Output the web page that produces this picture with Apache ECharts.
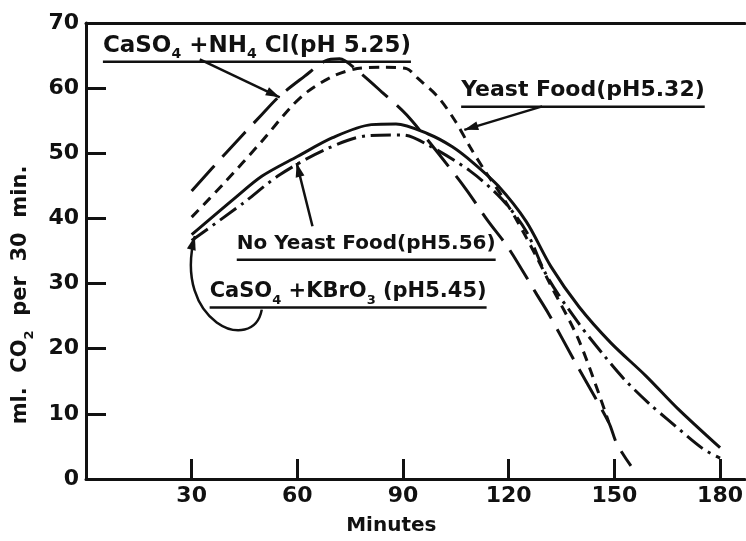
<!DOCTYPE html>
<html>
<head>
<meta charset="utf-8">
<title>CO2 per 30 min</title>
<script src="https://cdn.jsdelivr.net/npm/echarts@6/dist/echarts.min.js"></script>
<style>
  html, body { margin: 0; padding: 0; background: #fff; }
  #chart { width: 746px; height: 541px; }
</style>
</head>
<body>
<div id="chart"></div>
<script>
// tick labels
var minuteTicks = [30, 60, 90, 120, 150, 180];

// CaSO4 + NH4Cl (pH 5.25), long dashes
var nh4Minutes = [30, 40, 50, 55, 62, 68, 72, 77, 84, 91, 100, 108, 114, 120, 128, 131.4, 139, 148.4, 150.7, 154.7];
var nh4Co2     = [44.2, 50.2, 56, 58.8, 61.8, 64.2, 64.5, 62.7, 59.4, 55.9, 50, 44.4, 39.7, 35.4, 28.3, 25.3, 17.8, 8.7, 5.4, 2];

// Yeast Food (pH 5.32), short dashes
var yeastMinutes = [30, 39, 50, 58, 63, 70, 77, 85, 91, 94, 100, 105, 109, 113, 118, 122, 128, 131.4, 140, 148.4];
var yeastCo2     = [40.2, 45.3, 51.9, 57, 59.5, 61.8, 63, 63.2, 63, 61.6, 58.6, 54.8, 51, 47.5, 43.5, 40, 34, 30.3, 21.2, 8.7];

// No Yeast Food (pH 5.56), solid
var noYeastMinutes = [30, 42, 50, 60, 70, 81, 88, 97, 104, 110, 117, 125, 132, 140, 149, 159, 168, 180];
var noYeastCo2     = [37.5, 43, 46.5, 49.5, 52.4, 54.4, 54.5, 53, 51, 48.5, 45, 39.5, 32.6, 26.4, 20.9, 15.8, 10.8, 4.8];

// CaSO4 + KBrO3 (pH 5.45), dash-dot
var kbrMinutes = [30, 44.5, 55, 68, 80, 90, 97, 109, 118, 125, 131, 140, 147, 153, 160, 165, 175, 180];
var kbrCo2     = [36.6, 42.3, 46.7, 50.6, 52.7, 52.8, 51.3, 47.3, 43, 38, 31, 23.8, 19, 15.2, 11.5, 9.2, 4.7, 3.2];

function pairs(xs, ys) {
  return xs.map(function (x, i) { return [x, ys[i]]; });
}

var FONT = '"DejaVu Sans", sans-serif';
var INK = '#111';
var chart = echarts.init(document.getElementById('chart'));

var axisLine = { lineStyle: { color: INK, width: 3 } };
var tickStyle = { inside: true, length: 20, lineStyle: { color: INK, width: 3 } };

function curve(data, dash) {
  return {
    type: 'line',
    data: data,
    smooth: 0.3,
    symbol: 'none',
    silent: true,
    lineStyle: { color: INK, width: 3, type: dash }
  };
}

chart.setOption({
  backgroundColor: '#fff',
  animation: false,
  grid: { left: 86, right: 0, top: 23, bottom: 53 },
  xAxis: [{
    type: 'value',
    min: 0,
    max: 187,
    axisLine: axisLine,
    axisTick: Object.assign({ customValues: minuteTicks }, tickStyle),
    axisLabel: {
      customValues: minuteTicks,
      color: INK, fontFamily: FONT, fontWeight: 'bold', fontSize: 22, margin: 6
    },
    splitLine: { show: false },
    name: 'Minutes',
    nameLocation: 'middle',
    nameGap: 37,
    nameTextStyle: { color: INK, fontFamily: FONT, fontWeight: 'bold', fontSize: 20, padding: [0, 48, 0, 0] }
  }, {
    type: 'value',
    position: 'top',
    min: 0,
    max: 187,
    axisLine: axisLine,
    axisTick: { show: false },
    axisLabel: { show: false },
    splitLine: { show: false }
  }],
  yAxis: {
    type: 'value',
    min: 0,
    max: 70,
    interval: 10,
    axisLine: axisLine,
    axisTick: tickStyle,
    axisLabel: { color: INK, fontFamily: FONT, fontWeight: 'bold', fontSize: 22, margin: 7 },
    splitLine: { show: false }
  },
  series: [
    curve(pairs(nh4Minutes, nh4Co2), [34, 12]),
    curve(pairs(yeastMinutes, yeastCo2), [10, 7]),
    curve(pairs(noYeastMinutes, noYeastCo2), 'solid'),
    curve(pairs(kbrMinutes, kbrCo2), [20, 6, 3, 6])
  ]
});

// ---- annotations (anchored in data coordinates) ----
var labels = [
  { at: [4.8, 66.5], size: 23, parts: [['CaSO', 0], ['4', 1], [' +NH', 0], ['4', 1], [' Cl(pH 5.25)', 0]] },
  { at: [106.5, 59.6], size: 22, parts: [['Yeast Food(pH5.32)', 0]] },
  { at: [42.8, 36.1], size: 20, parts: [['No Yeast Food(pH5.56)', 0]] },
  { at: [35.1, 28.8], size: 21, parts: [['CaSO', 0], ['4', 1], [' +KBrO', 0], ['3', 1], [' (pH5.45)', 0]] }
];
var arrows = [
  { from: [32.3, 64.4], to: [55, 58.6] },
  { from: [129.5, 57.2], to: [107.4, 53.6] },
  { from: [64.3, 38.8], to: [59.8, 48.5] }
];
// loop from the KBrO3 label to the start of its curve
var loop = { start: [49.9, 26.0], cp1: [47.5, 19.0], cp2: [24.5, 24.0], end: [30.9, 37.3] };

function px(p) {
  return chart.convertToPixel({ seriesIndex: 0 }, p);
}

var measureCtx = document.createElement('canvas').getContext('2d');
function textWidth(str, size) {
  measureCtx.font = 'bold ' + size + 'px ' + FONT;
  return measureCtx.measureText(str).width;
}

function arrowHead(tip, from, len, half) {
  var dx = tip[0] - from[0], dy = tip[1] - from[1];
  var d = Math.sqrt(dx * dx + dy * dy);
  var ux = dx / d, uy = dy / d;
  var bx = tip[0] - ux * len, by = tip[1] - uy * len;
  return {
    type: 'polygon',
    shape: { points: [tip, [bx - uy * half, by + ux * half], [bx + uy * half, by - ux * half]] },
    style: { fill: INK }
  };
}

var elements = [];
labels.forEach(function (lab) {
  var p = px(lab.at);
  var sub = Math.round(lab.size * 0.6);
  var text = '';
  var w = 0;
  lab.parts.forEach(function (part) {
    text += part[1] ? '{s|' + part[0] + '}' : '{b|' + part[0] + '}';
    w += textWidth(part[0], part[1] ? sub : lab.size);
  });
  elements.push({
    type: 'text',
    x: p[0],
    y: p[1],
    style: {
      text: text,
      align: 'left',
      verticalAlign: 'middle',
      rich: {
        b: { fontFamily: FONT, fontWeight: 'bold', fontSize: lab.size, fill: INK, lineHeight: 32, verticalAlign: 'middle' },
        s: { fontFamily: FONT, fontWeight: 'bold', fontSize: sub, fill: INK, lineHeight: 32, verticalAlign: 'bottom' }
      }
    }
  });
  elements.push({
    type: 'line',
    shape: { x1: p[0], y1: p[1] + 16, x2: p[0] + w, y2: p[1] + 16 },
    style: { stroke: INK, lineWidth: 2.5 }
  });
});

arrows.forEach(function (a) {
  var f = px(a.from), t = px(a.to);
  elements.push({
    type: 'line',
    shape: { x1: f[0], y1: f[1], x2: t[0], y2: t[1] },
    style: { stroke: INK, lineWidth: 2.5 }
  });
  elements.push(arrowHead(t, f, 14, 4.5));
});

var ls = px(loop.start), lc1 = px(loop.cp1), lc2 = px(loop.cp2), le = px(loop.end);
elements.push({
  type: 'bezierCurve',
  shape: { x1: ls[0], y1: ls[1], cpx1: lc1[0], cpy1: lc1[1], cpx2: lc2[0], cpy2: lc2[1], x2: le[0], y2: le[1] },
  style: { stroke: INK, lineWidth: 2.5, fill: null }
});
elements.push(arrowHead(le, lc2, 14, 4.5));

// y axis name, rotated, with subscript
elements.push({
  type: 'text',
  x: 21,
  y: 295,
  rotation: Math.PI / 2,
  style: {
    text: '{b|ml.  CO}{s|2}{b|  per  30  min.}',
    align: 'center',
    verticalAlign: 'middle',
    rich: {
      b: { fontFamily: FONT, fontWeight: 'bold', fontSize: 21, fill: INK, lineHeight: 30, verticalAlign: 'middle' },
      s: { fontFamily: FONT, fontWeight: 'bold', fontSize: 13, fill: INK, lineHeight: 30, verticalAlign: 'bottom' }
    }
  }
});

chart.setOption({ graphic: { elements: elements } });
</script>
</body>
</html>
